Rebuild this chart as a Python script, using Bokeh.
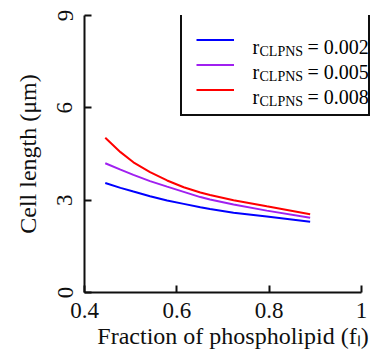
from bokeh.plotting import figure
from bokeh.models import Range1d, FixedTicker, Legend, LegendItem, Label
from bokeh.embed import file_html
from bokeh.resources import INLINE

# ---- data ----
f_frac = [0.445, 0.478, 0.506, 0.542, 0.579, 0.615, 0.651, 0.672, 0.723, 0.795, 0.889]
len_r002 = [3.56, 3.40, 3.28, 3.13, 2.99, 2.88, 2.77, 2.71, 2.59, 2.47, 2.30]
len_r005 = [4.20, 3.99, 3.82, 3.62, 3.44, 3.27, 3.10, 3.02, 2.86, 2.66, 2.43]
len_r008 = [5.03, 4.56, 4.23, 3.91, 3.64, 3.42, 3.25, 3.17, 3.00, 2.80, 2.54]
r_values = ["0.002", "0.005", "0.008"]
series_colors = ["#0000ff", "#a020f0", "#ff0000"]
x_ticks = [0.4, 0.6, 0.8, 1.0]
x_tick_labels = ["0.4", "0.6", "0.8", "1"]
y_ticks = [0, 3, 6, 9]

FONT = "Liberation Serif"
INK = "#0f0f0f"

p = figure(width=381, height=358, output_backend="svg", toolbar_location=None,
           x_range=Range1d(0.4, 1.0436), y_range=Range1d(0, 9),
           min_border_left=84, min_border_right=0, min_border_top=15,
           min_border_bottom=66)
p.outline_line_color = None
p.grid.visible = False

renderers = []
for ys, c in zip([len_r002, len_r005, len_r008], series_colors):
    renderers.append(p.line(f_frac, ys, line_color=c, line_width=2))

xa = p.xaxis[0]
ya = p.yaxis[0]
for ax in (xa, ya):
    ax.axis_line_width = 2
    ax.axis_line_color = INK
    ax.major_tick_in = 7
    ax.major_tick_out = 0
    ax.major_tick_line_width = 2
    ax.major_tick_line_color = INK
    ax.minor_tick_line_color = None
    ax.major_label_text_font = FONT
    ax.major_label_text_font_size = "23px"
    ax.major_label_text_color = INK
    ax.axis_label_text_font = FONT
    ax.axis_label_text_font_size = "24px"
    ax.axis_label_text_color = INK
    ax.axis_label_text_font_style = "normal"

xa.ticker = FixedTicker(ticks=x_ticks)
xa.major_label_overrides = {t: s for t, s in zip(x_ticks, x_tick_labels)}
xa.bounds = (0.4, 1.0)
xa.major_label_standoff = 10
xa.axis_label = "Fraction of phospholipid (f\u2097)"
xa.axis_label_standoff = 2

ya.ticker = FixedTicker(ticks=y_ticks)
ya.bounds = (0, 9)
ya.major_label_orientation = "vertical"
ya.major_label_standoff = 12
ya.axis_label = "Cell length (\u03bcm)"
ya.axis_label_standoff = 14

items = [LegendItem(label=" ", renderers=[r]) for r in renderers]
legend = Legend(items=items, location=(96, 176),
                border_line_color=INK, border_line_width=2, border_line_alpha=1,
                padding=14, spacing=4, label_height=21, glyph_height=21,
                glyph_width=38, label_standoff=20, label_width=100,
                label_text_font_size="10px", margin=0,
                background_fill_alpha=0)
p.add_layout(legend)

# legend texts with subscript
row_top = 176 + 99 - 14  # frame-relative y of first row top
for i, rv in enumerate(r_values):
    center = row_top - 10.5 - i * 25
    base = center - 5
    for txt, dx, dy, size in (("r", 168, 0, "20px"), ("CLPNS", 175, -4, "14px"),
                              ("= " + rv, 223, 0, "20px")):
        p.add_layout(Label(x=dx, y=base + dy, x_units="screen", y_units="screen", text=txt,
                           text_font=FONT, text_font_size=size, text_baseline="alphabetic",
                           text_color="black", level="overlay"))

open("out.html", "w").write(file_html(p, INLINE))
